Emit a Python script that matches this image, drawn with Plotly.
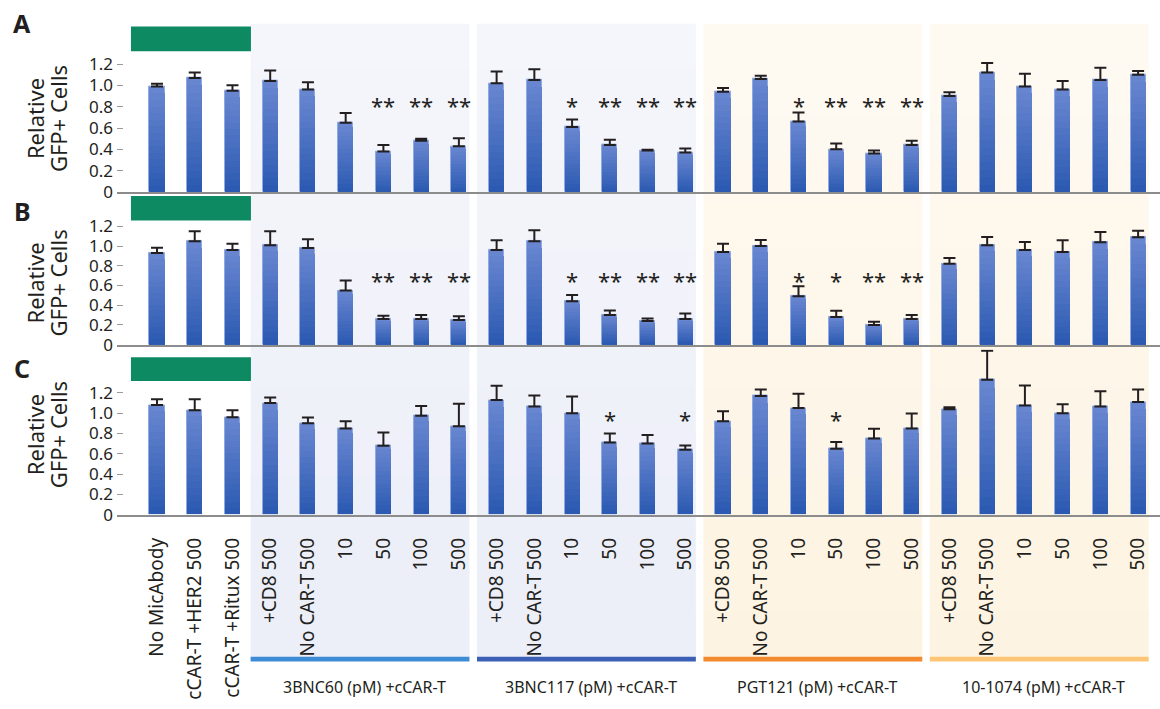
import plotly.graph_objects as go

W, H = 1160, 709
FONT = "Noto Sans"
INK = "#231f20"

# ---- data -------------------------------------------------------------
categories = [
    "No MicAbody", "cCAR-T +HER2 500", "cCAR-T +Ritux 500",
    "+CD8 500", "No CAR-T\u2009500", "10", "50", "100", "500",
    "+CD8 500", "No CAR-T\u2009500", "10", "50", "100", "500",
    "+CD8 500", "No CAR-T\u2009500", "10", "50", "100", "500",
    "+CD8 500", "No CAR-T\u2009500", "10", "50", "100", "500",
]
group_names = ["3BNC60 (pM) +cCAR-T", "3BNC117 (pM) +cCAR-T",
               "PGT121 (pM) +cCAR-T", "10-1074 (pM) +cCAR-T"]
group_first = [3, 9, 15, 21]
group_last = [8, 14, 20, 26]

vals_A = [0.99, 1.07, 0.95, 1.04, 0.96, 0.65, 0.38, 0.48, 0.43,
          1.02, 1.05, 0.61, 0.44, 0.39, 0.37,
          0.94, 1.06, 0.66, 0.40, 0.36, 0.44,
          0.90, 1.12, 0.99, 0.96, 1.05, 1.10]
err_A = [0.025, 0.05, 0.05, 0.10, 0.07, 0.09, 0.06, 0.02, 0.075,
         0.11, 0.10, 0.07, 0.05, 0.005, 0.037,
         0.035, 0.03, 0.085, 0.055, 0.03, 0.04,
         0.035, 0.09, 0.12, 0.08, 0.115, 0.035]
sig_A = ["", "", "", "", "", "", "**", "**", "**",
         "", "", "*", "**", "**", "**",
         "", "", "*", "**", "**", "**",
         "", "", "", "", "", ""]

vals_B = [0.93, 1.05, 0.96, 1.01, 0.98, 0.55, 0.26, 0.26, 0.25,
          0.96, 1.05, 0.44, 0.30, 0.24, 0.26,
          0.94, 1.00, 0.49, 0.28, 0.20, 0.26,
          0.82, 1.01, 0.96, 0.94, 1.04, 1.09]
err_B = [0.053, 0.10, 0.063, 0.14, 0.09, 0.10, 0.033, 0.04, 0.037,
         0.10, 0.11, 0.063, 0.047, 0.024, 0.056,
         0.083, 0.063, 0.103, 0.063, 0.033, 0.04,
         0.06, 0.083, 0.083, 0.12, 0.103, 0.067]
sig_B = ["", "", "", "", "", "", "**", "**", "**",
         "", "", "*", "**", "**", "**",
         "", "", "*", "*", "**", "**",
         "", "", "", "", "", ""]

vals_C = [1.08, 1.03, 0.96, 1.10, 0.90, 0.85, 0.68, 0.975, 0.87,
          1.13, 1.065, 1.00, 0.71, 0.70, 0.64,
          0.92, 1.17, 1.05, 0.65, 0.75, 0.85,
          1.04, 1.33, 1.075, 1.00, 1.065, 1.11]
err_C = [0.058, 0.107, 0.068, 0.055, 0.058, 0.071, 0.13, 0.097, 0.223,
         0.14, 0.11, 0.165, 0.09, 0.084, 0.042,
         0.10, 0.064, 0.142, 0.066, 0.097, 0.146,
         0.019, 0.285, 0.197, 0.087, 0.152, 0.123]
sig_C = ["", "", "", "", "", "", "", "", "",
         "", "", "", "*", "", "*",
         "", "", "", "*", "", "",
         "", "", "", "", "", ""]

y_ticks = [0, 0.2, 0.4, 0.6, 0.8, 1.0, 1.2]
y_ticktext = ["0", "0.2", "0.4", "0.6", "0.8", "1.0", "1.2"]

# ---- geometry helpers (pixels -> paper) --------------------------------
def py(p):
    return 1 - p / H

def px(p):
    return p / W

X_LEFT = 117
x_range = [-1.06, 26.58]

# panel: letter, values, errors, stars, zero px, top px, px per unit, star level, green bar px
panels = [
    ("A", vals_A, err_A, sig_A, 195.0, 24.0, 108.3, 0.85, (27, 52)),
    ("B", vals_B, err_B, sig_B, 350.0, 199.0, 100.0, 0.70, (199, 224)),
    ("C", vals_C, err_C, sig_C, 522.7, 355.0, 103.0, 0.98, (363, 387)),
]
title_mid = {"A": 121, "B": 288, "C": 442}
letter_mid = {"A": 23, "B": 214, "C": 374}

def lerp(c0, c1, t):
    return "rgb({},{},{})".format(*[round(a + (b - a) * t) for a, b in zip(c0, c1)])

BAR_TOP = (104, 134, 208)
BAR_BOT = (44, 90, 178)
N_LAYERS = 16
xs = list(range(len(categories)))

fig = go.Figure()
layout_axes = {}
annotations = []
shapes = []

for i, (letter, vals, errs, sigs, zero_px, top_px, ppu, star_y, green) in enumerate(panels):
    sfx = "" if i == 0 else str(i + 1)
    xa, ya = "x" + sfx, "y" + sfx
    # vertically shaded bars: overlay of shrinking copies
    for k in range(N_LAYERS):
        frac = 1 - k / N_LAYERS
        t = k / (N_LAYERS - 1)
        tr = dict(
            x=xs, y=[v * frac for v in vals], width=0.40,
            marker=dict(color=lerp(BAR_TOP, BAR_BOT, t),
                        line=dict(width=1 if k == 0 else 0, color="#8fa9e2")),
            xaxis=xa, yaxis=ya, showlegend=False, hoverinfo="skip",
            cliponaxis=False,
        )
        if k == 0:
            tr["error_y"] = dict(type="data", symmetric=False, array=errs,
                                 arrayminus=[0] * len(errs), color=INK,
                                 thickness=2, width=6)
        fig.add_trace(go.Bar(**tr))

    y_top = (zero_px - top_px) / ppu
    layout_axes["xaxis" + sfx] = dict(
        domain=[px(X_LEFT), 1], range=x_range, anchor=ya,
        showgrid=False, zeroline=False, showline=True,
        linecolor="#8c8c8c", linewidth=1.5, ticks="",
        showticklabels=(i == 2),
        tickmode="array", tickvals=xs, ticktext=categories,
        tickangle=-90, ticklabelstandoff=14,
        tickfont=dict(family=FONT, size=19, color=INK),
    )
    layout_axes["yaxis" + sfx] = dict(
        domain=[py(zero_px), py(top_px)], range=[0, y_top], anchor=xa,
        showgrid=False, zeroline=False, showline=False,
        ticks="inside", ticklen=6, tickwidth=1, tickcolor="#9a9a9a",
        tickmode="array", tickvals=y_ticks, ticktext=y_ticktext,
        ticklabelstandoff=3,
        tickfont=dict(family=FONT, size=17, color=INK),
    )

    # significance markers
    for xi, s in zip(xs, sigs):
        if s:
            annotations.append(dict(
                x=xi, y=star_y, xref=xa, yref=ya, text=s, showarrow=False,
                xanchor="center", yanchor="middle",
                yshift=-4, font=dict(family=FONT, size=22, color=INK)))

    # two-line axis title and panel letter
    for text, cx in (("Relative", 35), ("GFP+ Cells", 58)):
        annotations.append(dict(x=px(cx), y=py(title_mid[letter]),
                                xref="paper", yref="paper", text=text,
                                textangle=-90, showarrow=False,
                                xanchor="center", yanchor="middle",
                                font=dict(family=FONT, size=22, color=INK)))
    annotations.append(dict(x=px(22), y=py(letter_mid[letter]),
                            xref="paper", yref="paper",
                            text="<b>" + letter + "</b>", showarrow=False,
                            xanchor="center", yanchor="middle",
                            font=dict(family=FONT, size=25, color=INK)))

    # green header block over the control columns
    shapes.append(dict(type="rect", xref="x", yref="paper", x0=-0.69, x1=2.49,
                       y0=py(green[1]), y1=py(green[0]), fillcolor="#0d8a62",
                       line=dict(width=0), layer="above"))

# group background panels with a gentle vertical fade
SHADE_TOP = [(245, 246, 251), (245, 246, 251), (254, 250, 242), (254, 250, 242)]
SHADE_BOT = [(236, 238, 248), (236, 238, 248), (253, 243, 226), (253, 243, 226)]
LINE_COLORS = ["#3f8cd6", "#3a5fb4", "#f48a2f", "#fdc676"]
SHADE_Y0, SHADE_Y1 = 24, 667
N_BANDS = 14
for g in range(4):
    x0 = group_first[g] - 0.52
    x1 = group_last[g] + 0.28
    for b in range(N_BANDS):
        a = SHADE_Y0 + (SHADE_Y1 - SHADE_Y0) * b / N_BANDS
        c = SHADE_Y0 + (SHADE_Y1 - SHADE_Y0) * (b + 1) / N_BANDS
        shapes.append(dict(type="rect", xref="x", yref="paper", x0=x0, x1=x1,
                           y0=py(c + 0.5), y1=py(a), layer="below",
                           fillcolor=lerp(SHADE_TOP[g], SHADE_BOT[g], b / (N_BANDS - 1)),
                           line=dict(width=0)))
    shapes.append(dict(type="rect", xref="x", yref="paper", x0=x0, x1=x1,
                       y0=py(672), y1=py(667), layer="below",
                       fillcolor=LINE_COLORS[g], line=dict(width=0)))
    annotations.append(dict(x=(group_first[g] + group_last[g]) / 2, y=py(698),
                            xref="x3", yref="paper", text=group_names[g],
                            showarrow=False, xanchor="center", yanchor="middle",
                            font=dict(family=FONT, size=16, color=INK)))

fig.update_layout(
    width=W, height=H, margin=dict(l=0, r=0, t=0, b=0),
    paper_bgcolor="white", plot_bgcolor="rgba(0,0,0,0)",
    barmode="overlay", bargap=0,
    shapes=shapes, annotations=annotations,
    font=dict(family=FONT, color=INK),
    **layout_axes,
)

fig.write_html("out.html")
